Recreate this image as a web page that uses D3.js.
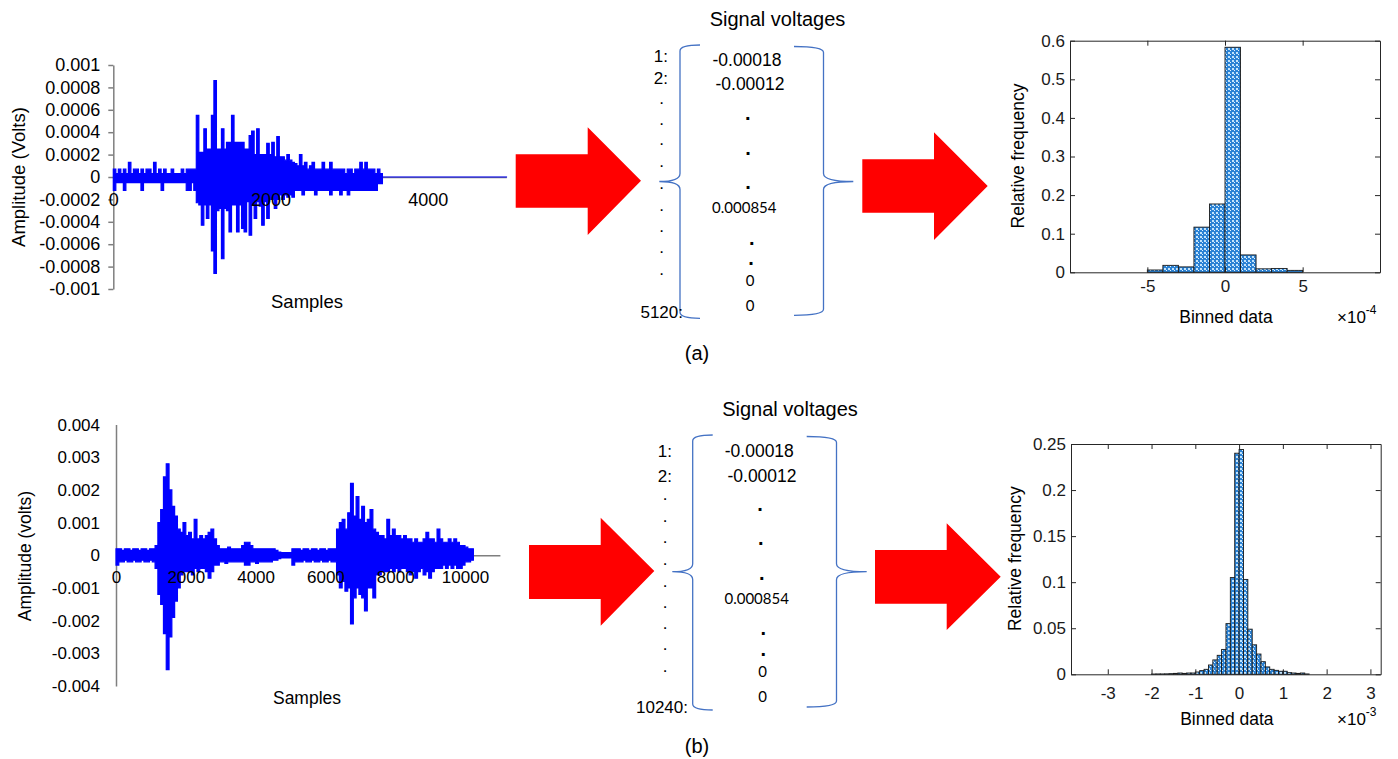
<!DOCTYPE html>
<html>
<head>
<meta charset="utf-8">
<script src="https://cdn.jsdelivr.net/npm/d3@7"></script>
<style>
  body { margin: 0; background: #fff; }
  svg { display: block; font-family: "Liberation Sans", Arial, Helvetica, sans-serif; }
</style>
</head>
<body>
<svg id="chart" width="1398" height="759"></svg>
<script>
// ---------- data ----------
// The traces hold thousands of samples, far more than pixels, so each one is kept as
// the upper / lower extent of the trace in consecutive sample windows.

// (a) windows of 32 samples, units of 1e-4 V
const sigAStep = 32;
const sigAHi = [
  0.7, 0.3, 0.7, 0.3, 0.7, 0.3, 1.3, 0.3, 0.7, 0.7, 0.3, 0.7, 0.3, 0.7, 0.7, 0.3,
  1.3, 0.3, 0.7, 0.3, 0.7, 0.3, 0.3, 0.7, 0.3, 0.3, 0.3, 0.7, 0.3, 0.7, 0.7, 0.7,
  0.7, 5.5, 2.2, 2.2, 4.3, 2.5, 2.5, 5.5, 8.6, 2.5, 2.5, 4.3, 2.5, 3.1, 3.1, 5.5,
  3.1, 3.1, 3.1, 3.1, 2.5, 2.5, 3.7, 4.1, 2.0, 4.3, 2.0, 2.0, 2.0, 3.0, 2.0, 3.1,
  1.8, 3.6, 1.8, 1.8, 1.5, 2.0, 1.5, 1.3, 1.2, 1.0, 2.0, 1.0, 1.3, 0.7, 1.0, 1.3,
  0.7, 0.7, 0.7, 1.3, 0.7, 0.7, 1.3, 0.7, 0.7, 0.7, 0.7, 0.7, 0.3, 0.7, 0.7, 0.3,
  0.7, 0.7, 1.3, 0.7, 1.3, 0.7, 0.7, 0.7, 0.3, 0.7, 0.3, 0
];
const sigALo = [
  -1.2, -0.5, -0.5, -0.5, -1.2, -0.5, -0.5, -0.5, -0.5, -0.5, -0.5, -1.2, -0.5, -0.5, -0.5, -0.5,
  -0.5, -0.5, -0.5, -1.2, -0.5, -0.5, -0.5, -0.5, -0.5, -0.5, -0.5, -0.5, -0.5, -1.2, -1.2, -0.5,
  -1.2, -2.3, -2.5, -4.3, -2.5, -3.7, -2.5, -6.6, -8.6, -3.0, -2.8, -7.3, -2.8, -3.0, -4.9, -2.5,
  -2.5, -4.9, -2.5, -4.6, -4.9, -2.2, -5.2, -2.5, -3.7, -2.2, -2.6, -4.3, -2.2, -3.7, -2.0, -2.0,
  -2.8, -2.0, -1.6, -2.0, -1.6, -1.8, -1.6, -1.8, -1.2, -1.2, -1.2, -1.6, -1.2, -1.2, -1.2, -1.2,
  -1.6, -1.2, -1.2, -1.2, -1.2, -1.2, -1.6, -1.2, -1.2, -1.2, -1.6, -1.2, -1.2, -1.6, -1.2, -1.2,
  -1.2, -1.2, -1.2, -1.2, -1.2, -1.2, -1.2, -1.2, -1.2, -0.6, -0.6, 0
];
const sigAFlatEnd = 5010;   // trace stays at 0 up to here
const sigAxTicks = [0, 2000, 4000];
const sigAyTicks = [-0.001, -0.0008, -0.0006, -0.0004, -0.0002, 0, 0.0002, 0.0004, 0.0006, 0.0008, 0.001];

// (b) windows of 80 samples, units of 1e-3 V
const sigBStep = 80;
const sigBHi = [
  0.2, 0.2, 0.15, 0.2, 0.2, 0.15, 0.2, 0.2, 0.15, 0.2, 0.2, 0.15, 0.2, 0.2,
  0.3, 1.0, 1.4, 2.4, 2.8, 2.0, 1.5, 1.2, 0.8, 0.7, 1.0, 0.6, 0.7, 0.5, 1.1, 0.5,
  0.6, 0.5, 0.6, 0.7, 0.8, 0.5, 0.3,
  0.2, 0.2, 0.2, 0.25, 0.2, 0.2, 0.2, 0.2, 0.3, 0.4, 0.4, 0.3, 0.2, 0.2, 0.2, 0.2,
  0.2, 0.2, 0.2, 0.2, 0.15, 0.1, 0.08, 0.08, 0.08, 0.08, 0.2, 0.2,
  0.2, 0.15, 0.2, 0.2, 0.15, 0.2, 0.2, 0.15, 0.2, 0.2, 0.15, 0.2, 0.2, 0.2,
  0.8, 1.0, 1.1, 0.8, 1.3, 2.2, 1.2, 1.8, 1.1, 1.5, 1.0, 1.1, 1.4, 0.8,
  0.7, 0.6, 0.6, 0.5, 1.1, 0.6, 0.8, 0.6, 0.6, 0.5, 0.6, 0.5, 0.5, 0.4, 0.5, 0.4,
  0.4, 0.5, 0.7, 0.5, 0.5, 0.4, 0.8, 0.5, 0.4, 0.4, 0.5, 0.4, 0.5, 0.4, 0.3, 0.3,
  0.25, 0.2, 0.2, 0
];
const sigBLo = [
  -0.3, -0.2, -0.2, -0.15, -0.2, -0.2, -0.15, -0.2, -0.2, -0.15, -0.2, -0.2, -0.15, -0.2,
  -0.4, -1.2, -1.5, -2.4, -3.5, -2.5, -1.9, -1.4, -1.0, -0.6, -0.5, -0.5, -0.5, -0.6, -0.4, -0.5,
  -0.4, -0.4, -0.5, -0.7, -0.5, -0.3, -0.3,
  -0.2, -0.2, -0.25, -0.2, -0.2, -0.2, -0.2, -0.2, -0.2, -0.3, -0.3, -0.2, -0.2, -0.25, -0.2, -0.2,
  -0.2, -0.2, -0.2, -0.15, -0.15, -0.1, -0.08, -0.08, -0.08, -0.08, -0.3, -0.2,
  -0.2, -0.2, -0.15, -0.2, -0.2, -0.15, -0.2, -0.2, -0.15, -0.2, -0.2, -0.15, -0.2, -0.2,
  -0.6, -1.0, -0.8, -1.1, -1.0, -2.1, -1.3, -1.0, -1.2, -1.3, -1.7, -1.0, -1.0, -1.3,
  -0.6, -0.6, -0.5, -0.5, -0.5, -0.4, -0.5, -0.4, -0.5, -0.4, -0.4, -0.5, -0.6, -0.5, -0.7, -0.5,
  -0.4, -0.6, -0.5, -0.7, -0.5, -0.4, -0.4, -0.4, -0.3, -0.4, -0.3, -0.4, -0.3, -0.4, -0.4, -0.3,
  -0.2, -0.2, -0.15, 0
];
const sigBxTicks = [0, 2000, 4000, 6000, 8000, 10000];
const sigByTicks = [-0.004, -0.003, -0.002, -0.001, 0, 0.001, 0.002, 0.003, 0.004];

// stored voltages shown between the braces
const rowLabelsA = ["1:", "2:", "5120:"];
const rowLabelsB = ["1:", "2:", "10240:"];
const voltages = ["-0.00018", "-0.00012", "0.000854", "0", "0"];

// (a) histogram, bins of 1e-4 V starting at -5e-4
const histAStart = -5, histAWidth = 1;
const histA = [0.006, 0.018, 0.014, 0.117, 0.177, 0.583, 0.045, 0.009, 0.010, 0.005];
const histAxTicks = [-5, 0, 5];
const histAyTicks = [0, 0.1, 0.2, 0.3, 0.4, 0.5, 0.6];

// (b) histogram, bins of 1e-4 V (0.1 x 1e-3) starting at -2e-3
const histBStart = -2.0, histBWidth = 0.1;
const histB = [
  0.0003, 0.0004, 0.0004, 0.0005, 0.0007, 0.001, 0.0014, 0.001, 0.0014, 0.0014,
  0.0025, 0.004, 0.0054, 0.0101, 0.0156, 0.0206, 0.027, 0.055, 0.105, 0.240,
  0.244, 0.103, 0.049, 0.032, 0.022, 0.0137, 0.008, 0.0054, 0.0043, 0.0033,
  0.0033, 0.0018, 0.0014, 0.001, 0.0014, 0.0004
];
const histBxTicks = [-3, -2, -1, 0, 1, 2, 3];
const histByTicks = [0, 0.05, 0.1, 0.15, 0.2, 0.25];

// ---------- drawing ----------
const svg = d3.select("#chart");
const fmt = d => d === 0 ? "0" : String(d);

// hatch fill like matlab's crosshatch bars
const pat = svg.append("defs").append("pattern")
  .attr("id", "hatch").attr("patternUnits", "userSpaceOnUse")
  .attr("width", 4).attr("height", 4);
pat.append("rect").attr("width", 4).attr("height", 4).attr("fill", "#2b82d4");
pat.append("rect").attr("width", 2).attr("height", 2).attr("fill", "#c2e3fb");
pat.append("rect").attr("x", 2).attr("y", 2).attr("width", 1).attr("height", 1).attr("fill", "#e6f4ff");

function styleWaveAxis(a, size) {
  a.select(".domain").attr("stroke", "#7f7f7f").attr("stroke-width", 1.5);
  a.selectAll(".tick line").attr("stroke", "#7f7f7f").attr("stroke-width", 1.5);
  a.selectAll("text").attr("fill", "#000").style("font-size", size + "px")
    .style("font-family", "'Liberation Sans', Arial, sans-serif");
}

function drawWave(opt) {
  const g = svg.append("g");
  const x = d3.scaleLinear().domain(opt.xDomain).range(opt.xRange);
  const y = d3.scaleLinear().domain(opt.yDomain).range(opt.yRange);
  const xAxis = d3.axisBottom(x).tickValues(opt.xTicks).tickFormat(fmt).tickSize(0).tickPadding(opt.xPad);

  const ya = g.append("g").attr("transform", `translate(${x(0)},0)`)
    .call(d3.axisLeft(y).tickValues(opt.yTicks).tickFormat(fmt)
      .tickSizeInner(opt.yTickLen).tickSizeOuter(0).tickPadding(opt.yPad));
  styleWaveAxis(ya, opt.fontSize);
  // x axis line below the trace ...
  const xa = g.append("g").attr("transform", `translate(0,${y(0)})`).call(xAxis);
  styleWaveAxis(xa, opt.fontSize);
  xa.selectAll("text").remove();

  const cols = opt.hi.map((h, i) => ({ s: i * opt.step, hi: h * opt.unit, lo: opt.lo[i] * opt.unit }));
  if (opt.flatEnd) cols.push({ s: opt.flatEnd, hi: 0, lo: 0 });
  g.append("path").datum(cols)
    .attr("d", d3.area().curve(d3.curveStepAfter)
      .x(d => x(d.s)).y0(d => y(d.lo)).y1(d => y(d.hi)))
    .attr("fill", "#0000ff").attr("stroke", "#0000ff")
    .attr("stroke-width", opt.lineWidth);

  // ... and its labels on top of it
  const xl = g.append("g").attr("transform", `translate(0,${y(0)})`).call(xAxis);
  styleWaveAxis(xl, opt.fontSize);
  xl.select(".domain").remove();

  g.append("text").attr("x", opt.xLabelPos[0]).attr("y", opt.xLabelPos[1])
    .attr("text-anchor", "middle").attr("dy", "0.35em")
    .style("font-size", (opt.fontSize + 0.5) + "px").text("Samples");
  g.append("text")
    .attr("transform", `translate(${opt.yLabelPos[0]},${opt.yLabelPos[1]}) rotate(-90)`)
    .attr("text-anchor", "middle").attr("dy", "0.35em")
    .style("font-size", (opt.fontSize + 0.5) + "px").text(opt.yLabel);
}

function drawHist(opt) {
  const g = svg.append("g");
  const x = d3.scaleLinear().domain(opt.xlim).range([opt.left, opt.right]);
  const y = d3.scaleLinear().domain([0, opt.ymax]).range([opt.bottom, opt.top]);
  const edge = i => opt.start + i * opt.width;

  g.selectAll("rect.bar").data(opt.values).join("rect")
    .attr("class", "bar")
    .attr("x", (d, i) => x(edge(i)))
    .attr("width", (d, i) => x(edge(i + 1)) - x(edge(i)))
    .attr("y", d => y(d))
    .attr("height", d => y(0) - y(d))
    .attr("fill", "url(#hatch)").attr("stroke", "#1a1a1a").attr("stroke-width", 0.9);

  const axes = [
    g.append("g").attr("transform", `translate(${opt.left},0)`)
      .call(d3.axisLeft(y).tickValues(opt.yTicks).tickFormat(fmt).tickSizeInner(-5).tickSizeOuter(0).tickPadding(5)),
    g.append("g").attr("transform", `translate(${opt.right},0)`)
      .call(d3.axisRight(y).tickValues(opt.yTicks).tickFormat("").tickSizeInner(-5).tickSizeOuter(0)),
    g.append("g").attr("transform", `translate(0,${opt.bottom})`)
      .call(d3.axisBottom(x).tickValues(opt.xTicks).tickFormat(fmt).tickSizeInner(-5).tickSizeOuter(0).tickPadding(opt.xPad)),
    g.append("g").attr("transform", `translate(0,${opt.top})`)
      .call(d3.axisTop(x).tickValues(opt.xTicks).tickFormat("").tickSizeInner(-5).tickSizeOuter(0))
  ];
  axes.forEach(a => {
    a.select(".domain").attr("stroke", "#262626").attr("stroke-width", 1);
    a.selectAll(".tick line").attr("stroke", "#262626");
    a.selectAll("text").attr("fill", "#1a1a1a").style("font-size", "17px")
      .style("font-family", "'Liberation Sans', Arial, sans-serif");
  });

  const lblY = opt.bottom + 44.5;
  g.append("text").attr("x", (opt.left + opt.right) / 2 + 1).attr("y", lblY)
    .attr("text-anchor", "middle").attr("dy", "0.35em").style("font-size", "17.5px")
    .text("Binned data");
  const ex = g.append("text").attr("x", 1337).attr("y", lblY + 6.5).style("font-size", "17px").text("×10");
  ex.append("tspan").attr("dy", -9).style("font-size", "12px").text(opt.exponent);
  g.append("text")
    .attr("transform", `translate(${opt.yLabelX},${(opt.top + opt.bottom) / 2 - 0.5}) rotate(-90)`)
    .attr("text-anchor", "middle").attr("dy", "0.35em").style("font-size", "17.5px")
    .text("Relative frequency");
}

function drawArrow(a) {
  const pts = [[a.x0, a.yb0], [a.xh, a.yb0], [a.xh, a.yh0], [a.tip[0], a.tip[1]],
               [a.xh, a.yh1], [a.xh, a.yb1], [a.x0, a.yb1]];
  svg.append("polygon").attr("points", pts.map(p => p.join(",")).join(" "))
    .attr("fill", "#ff0000");
}

// curly brace, cusp points towards xtip
function brace(xv, xh, xtip, y0, y1, ym) {
  return `M${xh},${y0} Q${xv},${y0} ${xv},${y0 + 6} L${xv},${ym - 8} Q${xv},${ym} ${xtip},${ym} ` +
         `Q${xv},${ym} ${xv},${ym + 8} L${xv},${y1 - 6} Q${xv},${y1} ${xh},${y1}`;
}

function drawVector(p) {
  const g = svg.append("g");
  g.append("text").attr("x", p.titleX).attr("y", p.titleY).attr("text-anchor", "middle")
    .style("font-size", "20px").text("Signal voltages");
  [brace(p.lv, p.lh, p.ltip, p.y0, p.y1, p.ym), brace(p.rv, p.rh, p.rtip, p.y0 + 1.5, p.y1 - 3, p.ym)]
    .forEach(d => g.append("path").attr("d", d).attr("fill", "none")
      .attr("stroke", "#4472c4").attr("stroke-width", 1.3));

  // row numbers
  g.append("text").attr("x", p.numX).attr("y", p.rowY[0]).attr("text-anchor", "end")
    .style("font-size", "17px").text(p.rows[0]);
  g.append("text").attr("x", p.numX).attr("y", p.rowY[1]).attr("text-anchor", "end")
    .style("font-size", "17px").text(p.rows[1]);
  g.append("text").attr("x", p.lastX).attr("y", p.lastY).attr("text-anchor", "end")
    .style("font-size", "17px").text(p.rows[2]);
  p.dotY.forEach(yy => g.append("text").attr("x", p.dotX).attr("y", yy + 1.5)
    .attr("text-anchor", "middle").style("font-size", "17px").text("."));

  // stored values
  g.append("text").attr("x", p.v1[0]).attr("y", p.v1[1]).attr("text-anchor", "middle")
    .style("font-size", "17.5px").text(voltages[0]);
  g.append("text").attr("x", p.v2[0]).attr("y", p.v2[1]).attr("text-anchor", "middle")
    .style("font-size", "17.5px").text(voltages[1]);
  g.append("text").attr("x", p.v3[0]).attr("y", p.v3[1]).attr("text-anchor", "middle")
    .style("font-family", "Lato, 'Open Sans', sans-serif").style("font-size", "15px").text(voltages[2]);
  [p.v4, p.v5].forEach((v, k) => g.append("text").attr("x", v[0]).attr("y", v[1])
    .attr("text-anchor", "middle").style("font-family", "Lato, 'Open Sans', sans-serif")
    .style("font-size", "15px").text(voltages[3 + k]));
  p.sq.forEach(s => g.append("text").attr("x", s[0]).attr("y", s[1] + 2)
    .attr("text-anchor", "middle").style("font-size", "20px").style("font-weight", "bold").text("."));

  g.append("text").attr("x", p.capX).attr("y", p.capY).attr("text-anchor", "middle")
    .style("font-size", "20px").text(p.caption);
}

// ---- row (a) ----
drawWave({
  hi: sigAHi, lo: sigALo, step: sigAStep, unit: 1e-4, flatEnd: sigAFlatEnd,
  xDomain: [0, 5000], xRange: [113.3, 506.3],
  yDomain: [-0.001, 0.001], yRange: [289, 65],
  xTicks: sigAxTicks, yTicks: sigAyTicks,
  yTickLen: 5, yPad: 8, xPad: 16.5, fontSize: 18, lineWidth: 1.2,
  xLabelPos: [307, 302], yLabelPos: [19, 177], yLabel: "Amplitude (Volts)"
});
drawArrow({ x0: 515.7, xh: 587.7, yb0: 154.3, yb1: 207.7, yh0: 127.3, yh1: 235, tip: [641, 180.7] });
drawVector({
  titleX: 777.5, titleY: 26,
  lv: 680, lh: 700, ltip: 659.3, rv: 823.5, rh: 794, rtip: 853.3, y0: 45, y1: 318.3, ym: 181.5,
  rows: rowLabelsA, numX: 668, rowY: [62, 83.5], lastX: 683, lastY: 318,
  dotX: 661.7, dotY: [102, 123, 143, 165, 187, 209, 230, 251, 273],
  v1: [747, 65.5], v2: [750, 89.5], v3: [744.3, 212.5], v4: [750, 285.5], v5: [750, 310.5],
  sq: [[747.7, 118.3], [748, 152.7], [748, 186.7], [751.7, 243.3], [751, 263.3]],
  caption: "(a)", capX: 697, capY: 360
});
drawArrow({ x0: 862.3, xh: 934, yb0: 159.3, yb1: 212.7, yh0: 132.3, yh1: 240, tip: [987.7, 186] });
drawHist({
  values: histA, start: histAStart, width: histAWidth,
  xlim: [-9.98, 9.98], left: 1070, right: 1380, ymax: 0.6, top: 40.7, bottom: 272.3,
  xTicks: histAxTicks, yTicks: histAyTicks, xPad: 8, exponent: "-4", yLabelX: 1018.3
});

// ---- row (b) ----
drawWave({
  hi: sigBHi, lo: sigBLo, step: sigBStep, unit: 1e-3,
  xDomain: [0, 11000], xRange: [116, 499.9],
  yDomain: [-0.004, 0.004], yRange: [686, 424.6],
  xTicks: sigBxTicks, yTicks: sigByTicks,
  yTickLen: 0, yPad: 16, xPad: 15.5, fontSize: 17, lineWidth: 1.2,
  xLabelPos: [307, 698], yLabelPos: [25, 556], yLabel: "Amplitude (volts)"
});
drawArrow({ x0: 529, xh: 600.7, yb0: 545, yb1: 599, yh0: 517.7, yh1: 625.7, tip: [654.3, 571] });
drawVector({
  titleX: 790, titleY: 416,
  lv: 692.7, lh: 712.7, ltip: 672.3, rv: 836.5, rh: 806.7, rtip: 866.7, y0: 435, y1: 710, ym: 571.7,
  rows: rowLabelsB, numX: 672, rowY: [456.7, 481.7], lastX: 688, lastY: 713.3,
  dotX: 665, dotY: [498.3, 520, 541.7, 563.3, 585, 606, 627.3, 648.3, 670.7],
  v1: [759.3, 456.7], v2: [762, 482], v3: [756.7, 603.7], v4: [762.7, 677], v5: [762.7, 701.5],
  sq: [[760, 509], [760.7, 542.7], [761.7, 578.3], [763.3, 633.3], [763.3, 654.3]],
  caption: "(b)", capX: 697, capY: 752.5
});
drawArrow({ x0: 875, xh: 946.7, yb0: 550, yb1: 603.7, yh0: 523.3, yh1: 630, tip: [1000.7, 576.7] });
drawHist({
  values: histB, start: histBStart, width: histBWidth,
  xlim: [-3.84, 3.235], left: 1071, right: 1380.7, ymax: 0.25, top: 444, bottom: 674.3,
  xTicks: histBxTicks, yTicks: histByTicks, xPad: 12.5, exponent: "-3", yLabelX: 1015
});
</script>
</body>
</html>
